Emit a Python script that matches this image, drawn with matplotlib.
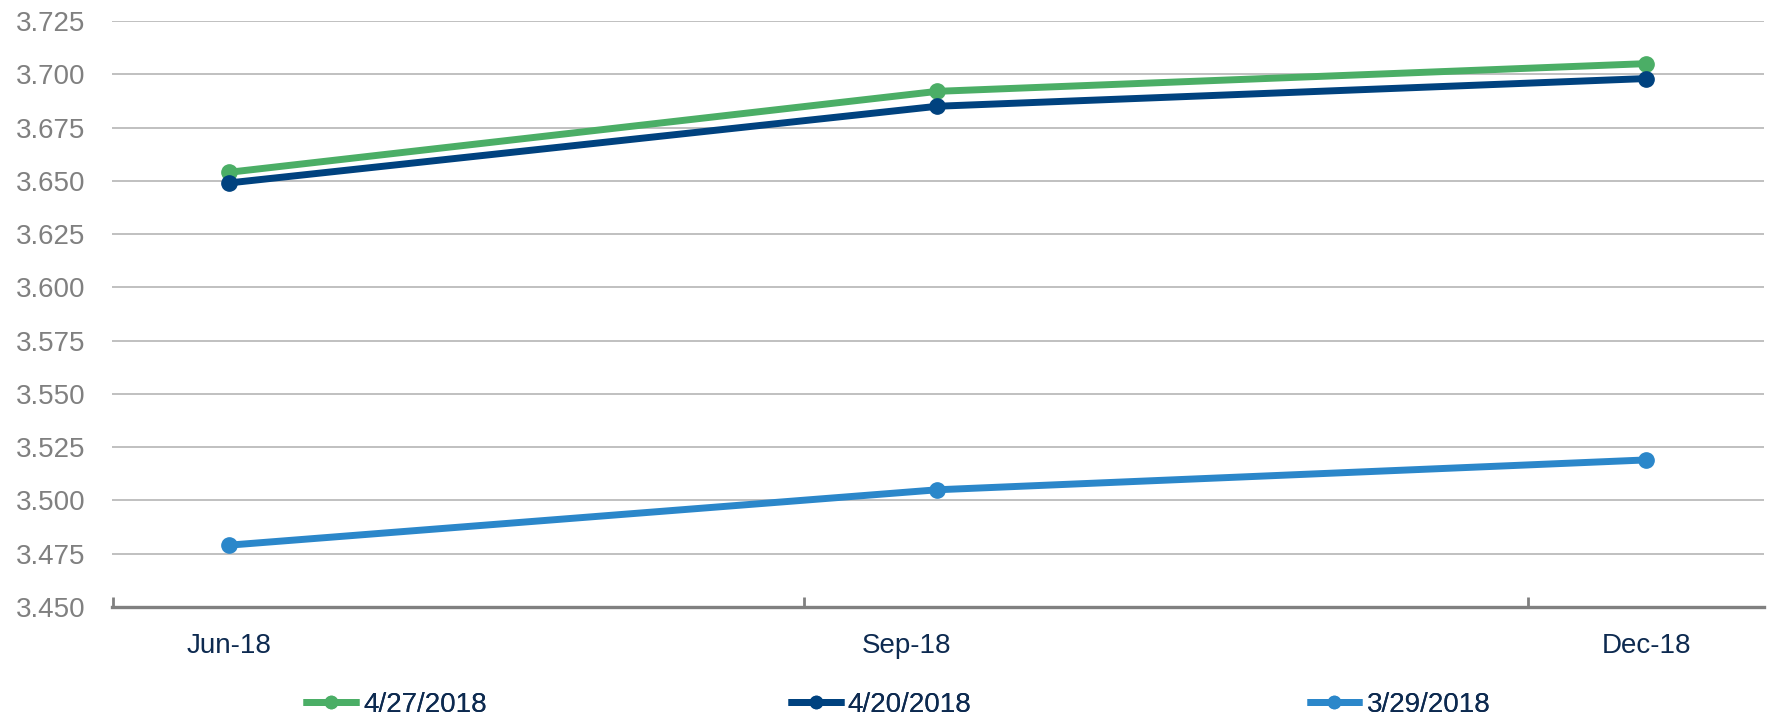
import matplotlib.pyplot as plt
from matplotlib.ticker import FixedLocator, NullFormatter

# Quarter-end futures curve on three snapshot dates
quarters = ['Jun-18', 'Sep-18', 'Dec-18']
series_names = ['4/27/2018', '4/20/2018', '3/29/2018']
vals_0427 = [3.654, 3.692, 3.705]
vals_0420 = [3.649, 3.685, 3.698]
vals_0329 = [3.479, 3.505, 3.519]
yticks = [3.450, 3.475, 3.500, 3.525, 3.550, 3.575, 3.600, 3.625, 3.650, 3.675, 3.700, 3.725]

colors = ['#4BAE66', '#00427F', '#2B87CA']
navy_text = '#0D2A50'
grey_text = '#808080'

plt.rcParams['font.family'] = ['Liberation Sans', 'DejaVu Sans']

fig = plt.figure(figsize=(17.73, 7.2), dpi=100, facecolor='w')
ax = fig.add_axes([0.0632, 0.157, 0.9318, 0.8138])

xpos = [0, 1, 2]
lines = []
for vals, c, name in zip([vals_0427, vals_0420, vals_0329], colors, series_names):
    ln, = ax.plot(xpos, vals, color=c, lw=5, marker='o', ms=11, label=name,
                  solid_capstyle='butt', zorder=3)
    lines.append(ln)

ax.set_xlim(-0.165, 2.167)
ax.set_ylim(3.450, 3.725)
ax.set_yticks(yticks)
ax.set_yticklabels(['%.3f' % v for v in yticks], fontsize=20, color=grey_text)
ax.tick_params(axis='y', length=0, pad=19)
ax.grid(axis='y', color='#BBBBBB', lw=1.3, zorder=0)

# category labels, and boundary tick marks drawn as minor ticks
ax.xaxis.set_major_locator(FixedLocator([0, 0.957, 2.001]))
ax.set_xticklabels(quarters, fontsize=20, color=navy_text)
ax.tick_params(axis='x', which='major', length=0, pad=19)
ax.xaxis.set_minor_locator(FixedLocator([-0.163, 0.812, 1.833]))
ax.xaxis.set_minor_formatter(NullFormatter())
ax.tick_params(axis='x', which='minor', direction='in', length=7, width=2, color='#808080')

for s in ['top', 'right', 'left']:
    ax.spines[s].set_visible(False)
ax.spines['bottom'].set_color('#808080')
ax.spines['bottom'].set_linewidth(2.4)

# one legend entry per anchor so spacing follows the original layout
anchors = [0.171, 0.4445, 0.737]
for ln, xa in zip(lines, anchors):
    leg = fig.legend(handles=[ln], loc='center left', bbox_to_anchor=(xa, 0.021),
                     frameon=False, fontsize=20, handlelength=2.0, handletextpad=0.15,
                     borderaxespad=0, borderpad=0, markerscale=0.8)
    for t in leg.get_texts():
        t.set_color(navy_text)
    fig.add_artist(leg)

fig.savefig('out.png', dpi=100)
